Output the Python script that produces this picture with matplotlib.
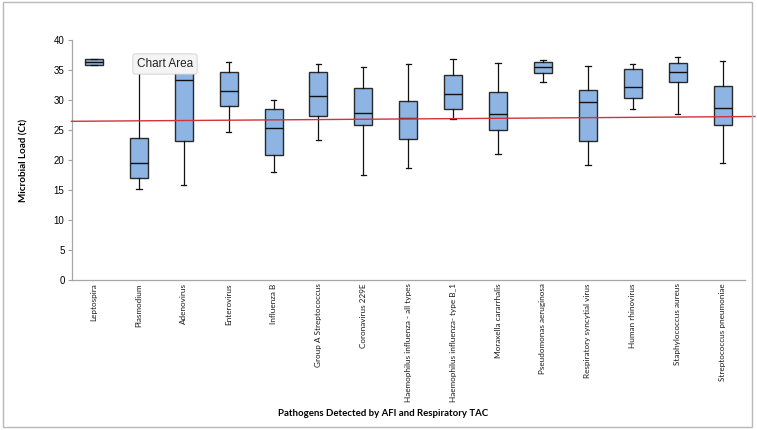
import matplotlib
matplotlib.use("Agg")
import matplotlib.pyplot as plt
from matplotlib.patches import Rectangle

categories = ["Leptospira", "Plasmodium", "Adenovirus", "Enterovirus", "Influenza B",
              "Group A Streptococcus", "Coronavirus 229E", "Haemophilus influenza - all types",
              "Haemophilus influenza- type B_1", "Moraxella cararrhalis", "Pseudomonas aeruginosa",
              "Respiratory syncytial virus", "Human rhinovirus", "Staphylococcus aureus",
              "Streptococcus pneumoniae"]
whisker_low = [35.8, 15.2, 15.8, 24.7, 17.95, 23.4, 17.5, 18.7, 26.8, 20.95, 33.0, 19.1, 28.45, 27.6, 19.45]
q1 =          [35.8, 17.05, 23.2, 28.95, 20.9, 27.3, 25.8, 23.45, 28.45, 25.05, 34.5, 23.2, 30.4, 33.0, 25.8]
median =      [36.4, 19.45, 33.3, 31.55, 25.4, 30.6, 27.8, 26.95, 30.95, 27.6, 35.45, 29.6, 32.1, 34.67, 28.6]
q3 =          [36.9, 23.7, 35.5, 34.7, 28.45, 34.67, 32.05, 29.9, 34.2, 31.3, 36.4, 31.7, 35.1, 36.1, 32.3]
whisker_high = [36.9, 36.5, 36.5, 36.4, 29.95, 36.0, 35.5, 36.0, 36.8, 36.1, 36.6, 35.67, 36.0, 37.1, 36.5]
trend_x = [-0.5, 14.72]
trend_y = [26.45, 27.25]
yticks = [0, 5, 10, 15, 20, 25, 30, 35, 40]

fig = plt.figure(figsize=(7.57, 4.30), dpi=100)
ax = fig.add_axes([71.5/757, 1-280/430, (745-71.5)/757, 240/430])

stats = []
for i, c in enumerate(categories):
    stats.append(dict(label=c, whislo=whisker_low[i], q1=q1[i], med=median[i],
                      q3=q3[i], whishi=whisker_high[i], fliers=[]))

ax.bxp(stats, positions=range(len(categories)), widths=0.4, patch_artist=True,
       showfliers=False,
       boxprops=dict(facecolor="#8db4e2", edgecolor="#2a2a2a", linewidth=1.0),
       medianprops=dict(color="#111111", linewidth=1.0),
       whiskerprops=dict(color="#111111", linewidth=0.9),
       capprops=dict(color="#111111", linewidth=0.9),
       capwidths=0.12, zorder=3)

ax.plot(trend_x, trend_y, color="#d0333a", linewidth=1.0, zorder=4, clip_on=False)

ax.set_xlim(-0.5, len(categories) - 0.5)
ax.set_ylim(0, 40)
ax.set_yticks(yticks)
ax.set_yticklabels([str(t) for t in yticks], fontsize=7, family="Liberation Sans")
ax.set_xticks(range(len(categories)))
ax.set_xticklabels(categories, rotation=90, fontsize=5.85, family="Lato", va="top",
                   color="#1a1a1a")
ax.tick_params(axis="x", length=0, pad=2.5)
ax.tick_params(axis="y", length=3, width=0.8, color="#a0a0a0", pad=2)
for s in ["top", "right"]:
    ax.spines[s].set_visible(False)
for s in ["left", "bottom"]:
    ax.spines[s].set_color("#a6a6a6")
    ax.spines[s].set_linewidth(0.9)

ax.set_ylabel("Microbial Load (Ct)", fontsize=7.1, fontweight="bold", family="Lato", labelpad=18)
fig.text(383/757, 1-413/430, "Pathogens Detected by AFI and Respiratory TAC",
         fontsize=6.95, fontweight="bold", family="Lato", ha="center", va="center")

# outer chart frame
fig.patches.append(Rectangle((2.5/757, 1-427/430), (752-2.5)/757, (427-1.5)/430,
                             transform=fig.transFigure, fill=False, edgecolor="#b8b8b8",
                             linewidth=1.0))

# "Chart Area" tooltip
fig.text(165/757, 1-64/430, "Chart Area", fontsize=8.5, family="Liberation Sans",
         ha="center", va="center", color="#222222", zorder=10,
         bbox=dict(boxstyle="round,pad=0.35,rounding_size=0.2", facecolor="#f4f4f4",
                   edgecolor="#d0d0d0", linewidth=0.6))

fig.savefig("out.png", dpi=100)
